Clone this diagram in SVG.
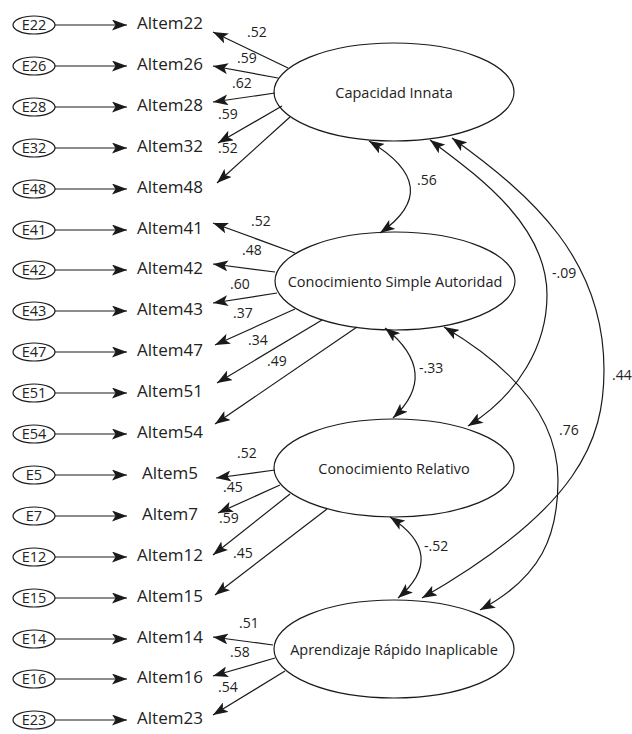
<svg xmlns="http://www.w3.org/2000/svg" width="632" height="734" viewBox="0 0 632 734">
<defs>
<marker id="ah" viewBox="0 0 15 11" refX="15" refY="5.5" markerWidth="15" markerHeight="11" markerUnits="userSpaceOnUse" orient="auto-start-reverse"><path d="M0,0 L15,5.5 L0,11 L3.5,5.5 z" fill="#1a1a1a"/></marker>
<style>
text{font-family:"Open Sans","Noto Sans","Liberation Sans",sans-serif;fill:#222}
.e{fill:#fff;stroke:#1a1a1a;stroke-width:1.2}
.el{font-size:14.5px;text-anchor:middle}
.it{font-size:17px;text-anchor:middle}
.lt{font-size:14.5px;text-anchor:middle}
.lb{font-size:14px}
.c line,.c path{fill:none;stroke:#1a1a1a;stroke-width:1.2;marker-end:url(#ah)}
.c path.d{marker-start:url(#ah)}
</style>
</defs>
<rect width="632" height="734" fill="#fff"/>
<g id="errors">
<g id="E22"><ellipse class="e" cx="34" cy="25" rx="21" ry="9"/><text class="el" x="34" y="30">E22</text></g>
<g id="E26"><ellipse class="e" cx="34" cy="66" rx="21" ry="9"/><text class="el" x="34" y="71">E26</text></g>
<g id="E28"><ellipse class="e" cx="34" cy="107" rx="21" ry="9"/><text class="el" x="34" y="112">E28</text></g>
<g id="E32"><ellipse class="e" cx="34" cy="148" rx="21" ry="9"/><text class="el" x="34" y="153">E32</text></g>
<g id="E48"><ellipse class="e" cx="34" cy="189" rx="21" ry="9"/><text class="el" x="34" y="194">E48</text></g>
<g id="E41"><ellipse class="e" cx="34" cy="230" rx="21" ry="9"/><text class="el" x="34" y="235">E41</text></g>
<g id="E42"><ellipse class="e" cx="34" cy="270" rx="21" ry="9"/><text class="el" x="34" y="275">E42</text></g>
<g id="E43"><ellipse class="e" cx="34" cy="311" rx="21" ry="9"/><text class="el" x="34" y="316">E43</text></g>
<g id="E47"><ellipse class="e" cx="34" cy="352" rx="21" ry="9"/><text class="el" x="34" y="357">E47</text></g>
<g id="E51"><ellipse class="e" cx="34" cy="393" rx="21" ry="9"/><text class="el" x="34" y="398">E51</text></g>
<g id="E54"><ellipse class="e" cx="34" cy="434" rx="21" ry="9"/><text class="el" x="34" y="439">E54</text></g>
<g id="E5"><ellipse class="e" cx="34" cy="475" rx="21" ry="9"/><text class="el" x="34" y="480">E5</text></g>
<g id="E7"><ellipse class="e" cx="34" cy="516" rx="21" ry="9"/><text class="el" x="34" y="521">E7</text></g>
<g id="E12"><ellipse class="e" cx="34" cy="557" rx="21" ry="9"/><text class="el" x="34" y="562">E12</text></g>
<g id="E15"><ellipse class="e" cx="34" cy="598" rx="21" ry="9"/><text class="el" x="34" y="603">E15</text></g>
<g id="E14"><ellipse class="e" cx="34" cy="639" rx="21" ry="9"/><text class="el" x="34" y="644">E14</text></g>
<g id="E16"><ellipse class="e" cx="34" cy="679" rx="21" ry="9"/><text class="el" x="34" y="684">E16</text></g>
<g id="E23"><ellipse class="e" cx="34" cy="720" rx="21" ry="9"/><text class="el" x="34" y="725">E23</text></g>
</g>
<g id="items">
<g id="Altem22"><text class="it" x="170" y="29">Altem22</text></g>
<g id="Altem26"><text class="it" x="170" y="70">Altem26</text></g>
<g id="Altem28"><text class="it" x="170" y="111">Altem28</text></g>
<g id="Altem32"><text class="it" x="170" y="152">Altem32</text></g>
<g id="Altem48"><text class="it" x="170" y="193">Altem48</text></g>
<g id="Altem41"><text class="it" x="170" y="234">Altem41</text></g>
<g id="Altem42"><text class="it" x="170" y="274">Altem42</text></g>
<g id="Altem43"><text class="it" x="170" y="315">Altem43</text></g>
<g id="Altem47"><text class="it" x="170" y="356">Altem47</text></g>
<g id="Altem51"><text class="it" x="170" y="397">Altem51</text></g>
<g id="Altem54"><text class="it" x="170" y="438">Altem54</text></g>
<g id="Altem5"><text class="it" x="170" y="479">Altem5</text></g>
<g id="Altem7"><text class="it" x="170" y="520">Altem7</text></g>
<g id="Altem12"><text class="it" x="170" y="561">Altem12</text></g>
<g id="Altem15"><text class="it" x="170" y="602">Altem15</text></g>
<g id="Altem14"><text class="it" x="170" y="643">Altem14</text></g>
<g id="Altem16"><text class="it" x="170" y="683">Altem16</text></g>
<g id="Altem23"><text class="it" x="170" y="724">Altem23</text></g>
</g>
<g id="latents">
<g id="CI"><ellipse class="e" cx="394" cy="92" rx="120" ry="49"/><text class="lt" x="394" y="98">Capacidad Innata</text></g>
<g id="CSA"><ellipse class="e" cx="395" cy="281" rx="120" ry="49"/><text class="lt" x="395" y="287">Conocimiento Simple Autoridad</text></g>
<g id="CR"><ellipse class="e" cx="394" cy="468" rx="120" ry="49"/><text class="lt" x="394" y="474">Conocimiento Relativo</text></g>
<g id="ARI"><ellipse class="e" cx="394" cy="649" rx="120" ry="49"/><text class="lt" x="394" y="655">Aprendizaje Rápido Inaplicable</text></g>
</g>
<g id="connectors" class="c">
<line x1="55" y1="25" x2="127" y2="25"/>
<line x1="55" y1="66" x2="127" y2="66"/>
<line x1="55" y1="107" x2="127" y2="107"/>
<line x1="55" y1="148" x2="127" y2="148"/>
<line x1="55" y1="189" x2="127" y2="189"/>
<line x1="55" y1="230" x2="127" y2="230"/>
<line x1="55" y1="270" x2="127" y2="270"/>
<line x1="55" y1="311" x2="127" y2="311"/>
<line x1="55" y1="352" x2="127" y2="352"/>
<line x1="55" y1="393" x2="127" y2="393"/>
<line x1="55" y1="434" x2="127" y2="434"/>
<line x1="55" y1="475" x2="127" y2="475"/>
<line x1="55" y1="516" x2="127" y2="516"/>
<line x1="55" y1="557" x2="127" y2="557"/>
<line x1="55" y1="598" x2="127" y2="598"/>
<line x1="55" y1="639" x2="127" y2="639"/>
<line x1="55" y1="679" x2="127" y2="679"/>
<line x1="55" y1="720" x2="127" y2="720"/>
<line x1="288" y1="68" x2="213" y2="32"/>
<line x1="278" y1="78" x2="213" y2="66"/>
<line x1="275" y1="93" x2="213" y2="102"/>
<line x1="282" y1="106" x2="218" y2="143"/>
<line x1="290" y1="117" x2="217" y2="183"/>
<line x1="295" y1="253" x2="213" y2="223"/>
<line x1="275" y1="272" x2="213" y2="264"/>
<line x1="277" y1="293" x2="213" y2="303"/>
<line x1="295" y1="309" x2="215" y2="345"/>
<line x1="322" y1="320" x2="217" y2="383"/>
<line x1="357" y1="327" x2="215" y2="424"/>
<line x1="275" y1="470" x2="216" y2="478"/>
<line x1="280" y1="485" x2="218" y2="513"/>
<line x1="290" y1="494" x2="213" y2="555"/>
<line x1="327" y1="509" x2="215" y2="595"/>
<line x1="273" y1="645" x2="213" y2="637"/>
<line x1="275" y1="658" x2="213" y2="676"/>
<line x1="285" y1="671" x2="213" y2="715"/>
<path class="d" d="M369,141 Q446,187 380,233"/>
<path class="d" d="M385,328 Q441,373 393,418"/>
<path class="d" d="M390,517 Q448,555 398,598"/>
<path class="d" d="M430,140 C478,176 547,225 547,295 C547,345 519,394 468,426"/>
<path class="d" d="M452,138 C533,196 604,260 604,370 C604,440 579,508 422,598"/>
<path class="d" d="M444,327 C500,360 558,410 558,480 C558,535 542,577 480,610"/>
</g>
<g id="labels" class="lb">
<text x="247" y="37">.52</text>
<text x="237" y="63">.59</text>
<text x="232" y="88">.62</text>
<text x="218" y="119">.59</text>
<text x="218" y="153">.52</text>
<text x="251" y="226">.52</text>
<text x="242" y="255">.48</text>
<text x="230" y="289">.60</text>
<text x="233" y="318">.37</text>
<text x="248" y="345">.34</text>
<text x="267" y="366">.49</text>
<text x="237" y="458">.52</text>
<text x="223" y="492">.45</text>
<text x="219" y="523">.59</text>
<text x="233" y="558">.45</text>
<text x="239" y="628">.51</text>
<text x="230" y="657">.58</text>
<text x="218" y="692">.54</text>
<text x="417" y="185">.56</text>
<text x="419" y="373">-.33</text>
<text x="424" y="551">-.52</text>
<text x="552" y="278">-.09</text>
<text x="559" y="435">.76</text>
<text x="612" y="380">.44</text>
</g>
</svg>
